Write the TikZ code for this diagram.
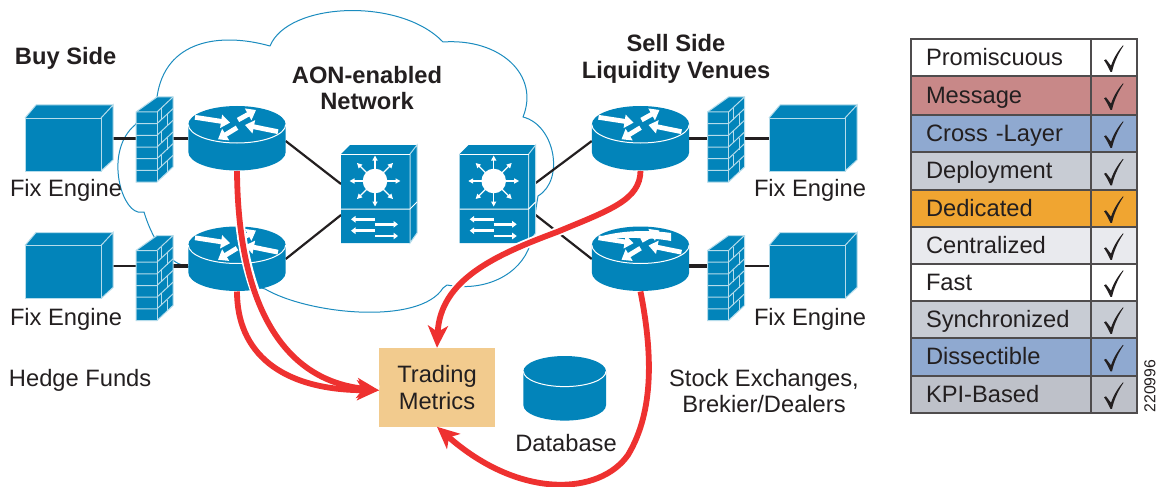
\documentclass[tikz,border=0pt]{standalone}
\usepackage{fontspec}
\setmainfont{Liberation Sans}
\usetikzlibrary{arrows.meta}
\definecolor{ink}{HTML}{231F20}
\definecolor{dev}{HTML}{0284BA}
\definecolor{rim}{HTML}{B5DCEB}
\definecolor{cloudline}{HTML}{1B8CBF}
\definecolor{redline}{HTML}{EE3130}
\definecolor{metric}{HTML}{F2CB8E}
\definecolor{cwhite}{HTML}{FFFFFF}
\definecolor{crose}{HTML}{C88888}
\definecolor{cblue}{HTML}{8FA9D0}
\definecolor{cgray}{HTML}{C8CCD4}
\definecolor{corange}{HTML}{F0A531}
\definecolor{clight}{HTML}{E9EAEE}
\definecolor{cdark}{HTML}{BEC1C9}
\newcommand\fsz{\fontsize{23.7}{26.6}\selectfont}
\tikzset{
  hold/.style={inner sep=0pt,outer sep=0pt,minimum width=#1},
  label/.style={text=ink,font=\fsz,inner sep=0pt,outer sep=0pt},
  blabel/.style={text=ink,font=\fsz\bfseries,inner sep=0pt,outer sep=0pt,align=center},
  link/.style={draw=ink,line width=2.2pt},
  dbl/.style={draw=ink,line width=3.6pt},
  redpath/.style={draw=redline,line width=5.8pt,-{Stealth[length=22pt,width=20pt,inset=6pt]}},
  halo/.style={draw=white,line width=9.5pt,shorten >=14pt},
  cellbox/.style={draw=ink!80,line width=1.4pt,inner ysep=0pt,outer sep=0pt,anchor=north west,text=ink,font=\fsz},
  srvpic/.pic={
    \fill[dev] (-44,-20.5) -- (-33,-33.5) -- (44,-33.5) -- (44,21.5) -- (32,32.5) -- (-44,32.5) -- cycle;
    \draw[rim,line width=1pt] (-44,32.5) -- (-44,-20.5) -- (32,-20.5) -- (32,32.5) -- cycle;
    \draw[rim,line width=1pt] (32,-20.5) -- (44,-33.5) -- (44,21.5) -- (32,32.5);
    \draw[rim,line width=1pt] (-44,-20.5) -- (-33,-33.5) -- (44,-33.5);
  },
  fwpic/.pic={
    \fill[dev] (-18.5,-27.5) -- (2.5,-42.5) -- (18.5,-42.5) -- (18.5,27.5) -- (2.5,42.5) -- (-18.5,42.5) -- cycle;
    \draw[rim,line width=1pt] (-18.5,-27.5) -- (2.5,-42.5) -- (18.5,-42.5) -- (18.5,27.5) -- (2.5,42.5) -- (-18.5,42.5) -- cycle;
    \draw[rim,line width=1pt] (2.5,-27.5) -- (2.5,42.5);
    \foreach \k in {0,...,5}{
      \draw[rim,line width=1pt] (-18.5,-27.5+11.67*\k) -- (2.5,-27.5+11.67*\k) -- (18.5,-42.5+11.67*\k);
    }
    \foreach \k in {0,2,4}{
      \draw[rim,line width=.9pt] (7,-31.5+11.67*\k) -- (7,-19.8+11.67*\k);
      \draw[rim,line width=.9pt] (13,-25+11.67*\k) -- (13,-13.3+11.67*\k);
    }
  },
  rtpic/.pic={
    \fill[dev] (-48.7,-14) arc[start angle=180,end angle=0,x radius=48.7pt,y radius=18.5pt]
      -- (48.7,13.5) arc[start angle=0,end angle=-180,x radius=48.7pt,y radius=18.5pt] -- cycle;
    \draw[white,line width=1pt] (-48.7,-14) arc[start angle=180,end angle=360,x radius=48.7pt,y radius=18.5pt];
    \begin{scope}[white,line width=4.8pt,-{Triangle[length=9pt,width=13pt]}]
      \draw (-42,-21.2) -- (-7,-15.8);
      \draw (1,-18.5) -- (19,-28.5);
      \draw (41,-6.8) -- (8,-13.5);
      \draw (0,-10.8) -- (-19,0.8);
    \end{scope}
  },
  swpic/.pic={
    \fill[dev] (-38,-40) -- (-29,-49) -- (38,-49) -- (38,39) -- (31,49) -- (-38,49) -- cycle;
    \draw[rim,line width=1pt] (31,-40) -- (38,-49) -- (38,39) -- (31,49) -- (31,-40);
    \draw[white,line width=1pt] (-38,-40) -- (31,-40);
    \draw[white,line width=1pt] (-38,15) -- (31,15) -- (38,8);
    \fill[white] (-4,-13) circle[radius=12.3pt];
    \foreach \a in {0,45,...,315}{
      \draw[white,line width=1.2pt,-{Triangle[length=5pt,width=5pt]}] (-4,-13) ++(\a:11pt) -- ++(\a:14.5pt);
    }
    \begin{scope}[white,line width=2.8pt,-{Triangle[length=4.5pt,width=6.5pt]}]
      \draw (-4,25.3) -- (-28,25.3);
      \draw (-4,30.3) -- (19,30.3);
      \draw (-4,36.7) -- (-28,36.7);
      \draw (-4,42) -- (19,42);
    \end{scope}
  },
  dbpic/.pic={
    \fill[dev] (-41.3,-17) arc[start angle=180,end angle=0,x radius=41.3pt,y radius=15.3pt]
      -- (41.3,17) arc[start angle=0,end angle=-180,x radius=41.3pt,y radius=15.3pt] -- cycle;
    \draw[white,line width=1pt] (-41.3,-17) arc[start angle=180,end angle=360,x radius=41.3pt,y radius=15.3pt];
  },
  tickpic/.pic={
    \fill[ink] (-10,2.8) -- (-8,1.8) -- (-3,8.3) .. controls (0,-0.7) and (5,-7.7) .. (9,-12.2)
      -- (9.5,-11.7) .. controls (4,-3.7) and (0,5.3) .. (-2,14.3) -- (-3.5,14.3)
      .. controls (-6,9.3) and (-8,5.3) .. (-10,2.8) -- cycle;
  }
}
\begin{document}
\begin{tikzpicture}[x=1pt,y=-1pt]
\useasboundingbox (0,0) rectangle (1171,487);
\fill[white] (0,0) rectangle (1171,487);
% cloud
\draw[cloudline,line width=1pt,line join=round]
  (157,97) .. controls (165,40) and (220,32) .. (270,46)
  .. controls (288,2) and (400,-3) .. (443,42)
  .. controls (500,38) and (540,75) .. (523,117)
  .. controls (555,125) and (565,180) .. (538,196)
  -- (530,245)
  .. controls (520,275) and (485,292) .. (447,285)
  -- (443,288)
  .. controls (420,325) and (310,315) .. (265,289)
  -- (182,265)
  .. controls (172,262) and (155,248) .. (144,212)
  -- (138,212)
  .. controls (120,208) and (105,150) .. (135,125)
  -- cycle;
% anchors of the devices
\node[hold=88pt,minimum height=67pt] (srvA) at (69,138.5) {};
\node[hold=88pt,minimum height=67pt] (srvC) at (69,266) {};
\node[hold=88pt,minimum height=67pt] (srvB) at (813,138.5) {};
\node[hold=88pt,minimum height=67pt] (srvD) at (813,266) {};
\node[hold=37pt,minimum height=85pt] (fwA) at (154.5,139.5) {};
\node[hold=37pt,minimum height=85pt] (fwC) at (154.5,278) {};
\node[hold=37pt,minimum height=85pt] (fwB) at (726,139.5) {};
\node[hold=37pt,minimum height=85pt] (fwD) at (726,278) {};
\node[hold=97.4pt,minimum height=65pt] (rtA) at (237,138.5) {};
\node[hold=97.4pt,minimum height=65pt] (rtC) at (237,259) {};
\node[hold=97.4pt,minimum height=65pt] (rtB) at (640.5,138.5) {};
\node[hold=97.4pt,minimum height=65pt] (rtD) at (640.5,259) {};
\node[hold=76pt,minimum height=98pt] (swA) at (379,194) {};
\node[hold=76pt,minimum height=98pt] (swB) at (497.7,194) {};
\node[hold=82.6pt,minimum height=65pt] (db) at (564.7,388.3) {};
% links
\draw[link] (srvA.east) -- (srvA.east -| fwA.west);
\draw[link] (srvA.east -| fwA.east) -- (srvA.east -| rtA.west);
\draw[link] (srvC.east) -- (srvC.east -| fwC.west);
\draw[dbl] (srvC.east -| fwC.east) -- (srvC.east -| rtC.west);
\draw[link] (srvB.west) -- (srvB.west -| fwB.east);
\draw[link] (srvB.west -| fwB.west) -- (srvB.west -| rtB.east);
\draw[link] (srvD.west) -- (srvD.west -| fwD.east);
\draw[dbl] (srvD.west -| fwD.west) -- (srvD.west -| rtD.east);
\draw[link] ([yshift=-2.5pt]rtA.east) -- ([yshift=10pt]swA.west);
\draw[link] (rtC.east) -- ([yshift=-21pt]swA.west);
\draw[link] ([yshift=-2.5pt]rtB.west) -- ([yshift=11pt]swB.east);
\draw[link] (rtD.west) -- ([yshift=-21pt]swB.east);
% devices
\foreach \n in {srvA,srvC,srvB,srvD}{\pic at (\n) {srvpic};}
\foreach \n in {fwA,fwC,fwB,fwD}{\pic at (\n) {fwpic};}
\foreach \n in {rtA,rtC,rtB,rtD}{\pic at (\n) {rtpic};}
\foreach \n in {swA,swB}{\pic at (\n) {swpic};}
\pic at (db) {dbpic};
% trace across the top of the lower right router
\fill[white] (602,236) .. controls (625,230) and (650,230) .. (671,233) -- (671,241)
  .. controls (650,237) and (625,238) .. (602,238) -- cycle;
% trading metrics
\node[fill=metric,inner sep=0pt,outer sep=0pt,minimum width=116pt,minimum height=79pt,text=ink,font=\fsz,align=center] (mt) at (437,387.3) {Trading\\Metrics};
% red curves
\coordinate (midB) at (557,232);
\coordinate (midD) at (628,455);
\draw[halo,shorten >=0pt] (rtA.south) .. controls (238,300) and (280,380) .. ([yshift=-3pt]mt.west);
\draw[redpath] (rtA.south) .. controls (238,300) and (280,380) .. ([yshift=-3pt]mt.west);
\draw[redpath] (rtC.south) .. controls (237,352) and (280,390) .. ([yshift=-3pt]mt.west);
\draw[halo] (rtB.south) .. controls (640,200) and (610,210) .. (midB) .. controls (495,255) and (440,280) .. (mt.north);
\draw[redpath] (rtB.south) .. controls (640,200) and (610,210) .. (midB) .. controls (495,255) and (440,280) .. (mt.north);
\draw[redpath] (rtD.south) .. controls (652,350) and (655,410) .. (midD) .. controls (600,495) and (520,500) .. (mt.south);
% labels
\node[blabel,anchor=base west] (buy) at (15,65) {Buy Side};
\node[blabel] (aon) at (367,88) {AON-enabled\\Network};
\node[blabel] (sell) at (676,59) {Sell Side\\Liquidity Venues};
\node[label,anchor=base west] (fa) at (10,196.5) {Fix Engine};
\node[label,anchor=base west] (fc) at (10,325) {Fix Engine};
\node[label,anchor=base west] (fb) at (754,196.5) {Fix Engine};
\node[label,anchor=base west] (fd) at (754,325) {Fix Engine};
\node[label,anchor=base west] (hedge) at (9,386) {Hedge Funds};
\node[label,align=center] (stock) at (764,391) {Stock Exchanges,\\Brekier/Dealers};
\node[label,anchor=base] (dbt) at (566,451.7) {Database};
% table
\foreach \i/\t/\h/\c/\s in {
  1/39/37/cwhite/Promiscuous,
  2/76/39/crose/Message,
  3/115/37/cblue/Cross -Layer,
  4/152/38/cgray/Deployment,
  5/190/37/corange/Dedicated,
  6/227/37/clight/Centralized,
  7/264/37/cwhite/Fast,
  8/301/37/cgray/Synchronized,
  9/338/38/cblue/Dissectible,
  10/376/37/cdark/KPI-Based}{
  \node[cellbox,fill=\c,inner xsep=15pt,text width=150pt,align=left,minimum width=180pt,minimum height=\h pt,text height=26pt,text depth=10.7pt] (lab\i) at (911,\t) {\s};
  \node[cellbox,fill=\c,inner xsep=0pt,minimum width=46pt,minimum height=\h pt] (chk\i) at (1091,\t) {};
  \pic at (chk\i) {tickpic};
}
\node[text=ink,inner sep=0pt,rotate=90,font=\fontsize{15.8}{18}\selectfont] (code) at (1150,386) {220996};
\end{tikzpicture}
\end{document}
